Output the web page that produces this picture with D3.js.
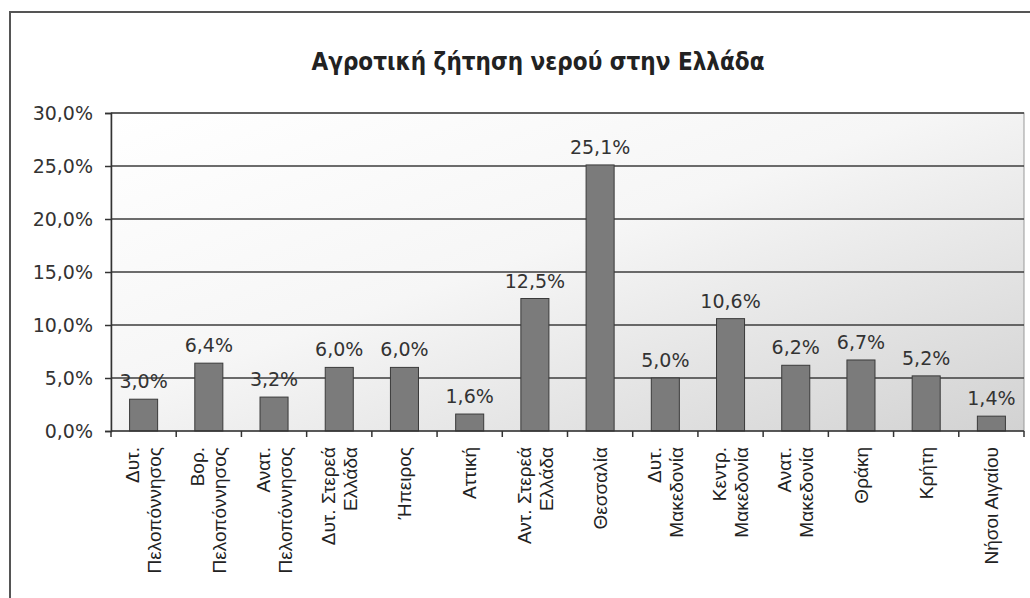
<!DOCTYPE html>
<html>
<head>
<meta charset="utf-8">
<script src="https://cdn.jsdelivr.net/npm/d3@7"></script>
<style>
  body { margin: 0; background: #fff; }
  svg { display: block; }
</style>
</head>
<body>
<div id="chart"></div>
<script>
// regions and their share of agricultural water demand (%)
const regions = [
  ["Δυτ.", "Πελοπόννησος"],
  ["Βορ.", "Πελοπόννησος"],
  ["Ανατ.", "Πελοπόννησος"],
  ["Δυτ. Στερεά", "Ελλάδα"],
  ["Ήπειρος"],
  ["Αττική"],
  ["Αντ. Στερεά", "Ελλάδα"],
  ["Θεσσαλία"],
  ["Δυτ.", "Μακεδονία"],
  ["Κεντρ.", "Μακεδονία"],
  ["Ανατ.", "Μακεδονία"],
  ["Θράκη"],
  ["Κρήτη"],
  ["Νήσοι Αιγαίου"]
];
const demand = [3.0, 6.4, 3.2, 6.0, 6.0, 1.6, 12.5, 25.1, 5.0, 10.6, 6.2, 6.7, 5.2, 1.4];
const yTicks = [0, 5, 10, 15, 20, 25, 30];
const title = "Αγροτική ζήτηση νερού στην Ελλάδα";

const width = 1030, height = 598;
const plot = { left: 111, right: 1024, top: 113, bottom: 431 };
const fmt = v => d3.format(".1f")(v).replace(".", ",") + "%";

const svg = d3.select("#chart").append("svg")
  .attr("width", width)
  .attr("height", height);

// background gradient of the plot area
const defs = svg.append("defs");
const grad = defs.append("linearGradient")
  .attr("id", "bg")
  .attr("x1", 0).attr("y1", 0).attr("x2", 1).attr("y2", 1);
grad.append("stop").attr("offset", "0%").attr("stop-color", "#ffffff");
grad.append("stop").attr("offset", "45%").attr("stop-color", "#f6f6f6");
grad.append("stop").attr("offset", "100%").attr("stop-color", "#d2d2d2");

// outer frame
svg.append("rect")
  .attr("x", 10).attr("y", 12)
  .attr("width", 1040).attr("height", 620)
  .attr("fill", "none")
  .attr("stroke", "#555")
  .attr("stroke-width", 2);

svg.append("text")
  .attr("x", 538).attr("y", 70)
  .attr("text-anchor", "middle")
  .style("font-family", "'DejaVu Sans Condensed', 'Liberation Sans Narrow', 'Liberation Sans', sans-serif")
  .style("font-weight", "bold")
  .style("font-size", "24px")
  .style("fill", "#222")
  .text(title);

const x = d3.scaleBand()
  .domain(d3.range(demand.length))
  .range([plot.left, plot.right])
  .padding(0);

const y = d3.scaleLinear()
  .domain([0, 30])
  .range([plot.bottom, plot.top]);

svg.append("rect")
  .attr("x", plot.left).attr("y", plot.top)
  .attr("width", plot.right - plot.left)
  .attr("height", plot.bottom - plot.top)
  .attr("fill", "url(#bg)")
  .attr("stroke", "#999")
  .attr("stroke-width", 1);

// gridlines
svg.append("g")
  .selectAll("line")
  .data(yTicks.filter(d => d > 0))
  .join("line")
  .attr("x1", plot.left).attr("x2", plot.right)
  .attr("y1", d => y(d)).attr("y2", d => y(d))
  .attr("stroke", "#3c3c3c")
  .attr("stroke-width", 1.5);

// y axis
const yAxis = svg.append("g")
  .attr("transform", `translate(${plot.left},0)`)
  .call(d3.axisLeft(y).tickValues(yTicks).tickSize(6).tickPadding(12).tickFormat(fmt));
yAxis.select(".domain").attr("stroke", "#333").attr("stroke-width", 1.5);
yAxis.selectAll(".tick line").attr("stroke", "#333").attr("stroke-width", 1.5);
yAxis.selectAll(".tick text")
  .style("font-family", "'DejaVu Sans', Verdana, sans-serif")
  .style("font-size", "19px")
  .style("fill", "#333");

// bars
const barW = x.bandwidth() * 0.43;
svg.append("g")
  .selectAll("rect")
  .data(demand)
  .join("rect")
  .attr("x", (d, i) => x(i) + (x.bandwidth() - barW) / 2)
  .attr("y", d => y(d))
  .attr("width", barW)
  .attr("height", d => y(0) - y(d))
  .attr("fill", "#7b7b7b")
  .attr("stroke", "#3a3a3a")
  .attr("stroke-width", 1);

// value labels
svg.append("g")
  .selectAll("text")
  .data(demand)
  .join("text")
  .attr("x", (d, i) => x(i) + x.bandwidth() / 2)
  .attr("y", d => y(d) - 11)
  .attr("text-anchor", "middle")
  .style("font-family", "'DejaVu Sans', Verdana, sans-serif")
  .style("font-size", "19px")
  .style("fill", "#333")
  .text(fmt);

// x axis line and ticks between categories
svg.append("line")
  .attr("x1", plot.left).attr("x2", plot.right)
  .attr("y1", plot.bottom).attr("y2", plot.bottom)
  .attr("stroke", "#333").attr("stroke-width", 1.5);

svg.append("g")
  .selectAll("line")
  .data(d3.range(demand.length + 1))
  .join("line")
  .attr("x1", i => i < demand.length ? x(i) : plot.right)
  .attr("x2", i => i < demand.length ? x(i) : plot.right)
  .attr("y1", plot.bottom).attr("y2", plot.bottom + 6)
  .attr("stroke", "#333").attr("stroke-width", 1.5);

// rotated category labels
const lineGap = 22;
const labels = svg.append("g")
  .selectAll("text")
  .data(regions)
  .join("text")
  .attr("transform", (d, i) => `translate(${x(i) + x.bandwidth() / 2},447) rotate(-90)`)
  .attr("text-anchor", "end")
  .style("font-family", "'Liberation Sans', Arial, sans-serif")
  .style("font-size", "19px")
  .style("fill", "#222");

labels.selectAll("tspan")
  .data(d => d.map((t, k) => ({ t, k, n: d.length })))
  .join("tspan")
  .attr("x", 0)
  .attr("y", d => (d.k - (d.n - 1) / 2) * lineGap)
  .attr("dy", "0.35em")
  .text(d => d.t);
</script>
</body>
</html>
